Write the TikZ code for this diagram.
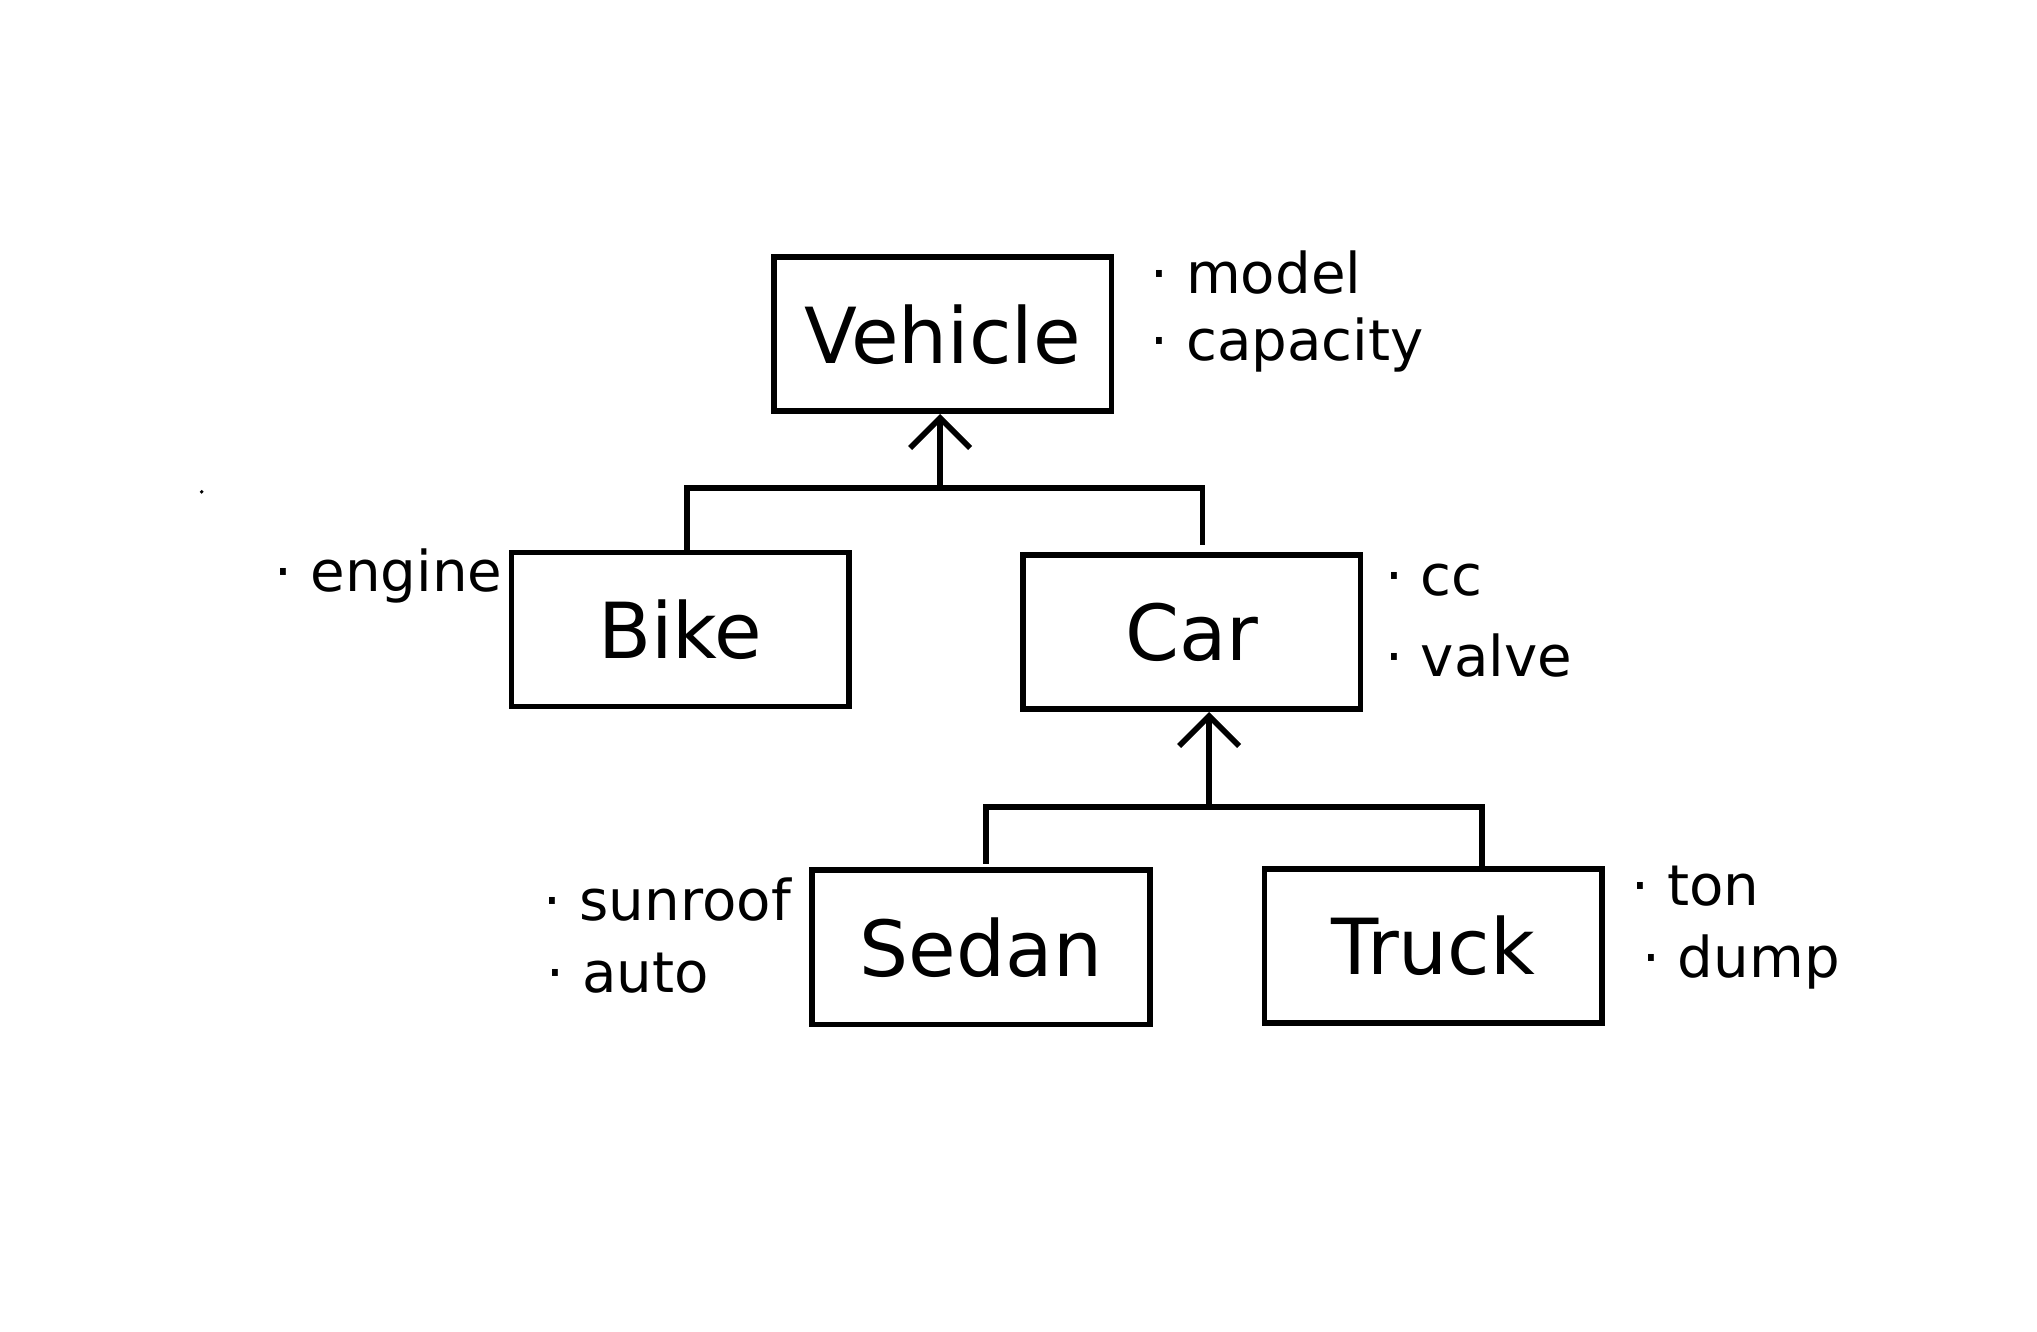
\documentclass[tikz,border=0pt]{standalone}
\usepackage{fontspec}
\setmainfont{DejaVu Sans}
\usetikzlibrary{arrows.meta}
\begin{document}
\begin{tikzpicture}[x=0.013184cm,y=-0.013184cm,
  cls/.style={draw,line width=1.6pt,minimum width=3.375cm,minimum height=1.54cm,inner sep=0pt,font=\fontsize{22}{26}\selectfont},
  attr/.style={anchor=west,font=\fontsize{16}{20}\selectfont,inner sep=0pt},
  ln/.style={line width=1.6pt},
  arr/.style={ln,-{Straight Barb[length=3mm,width=6mm]}}]
\useasboundingbox (0,0) rectangle (1545,1010);
\fill[white] (0,0) rectangle (1545,1010);
\node[cls] (veh) at (715,253.5) {Vehicle};
\node[cls] (bike) at (516,477.5) {Bike};
\node[cls] (car) at (904,479.5) {Car};
\node[cls] (sedan) at (744,718.5) {Sedan};
\node[cls] (truck) at (1087,717.5) {Truck};
\coordinate (j1) at (713,370);
\coordinate (j2) at (917,612);
\draw[ln] (bike.north -| 521,0) -- (521,370) -- (912,370) -- (912,413);
\draw[arr] (j1) -- (veh.south -| j1);
\draw[ln] (748,655) -- (748,612) -- (1124,612) -- (truck.north -| 1124,0);
\draw[arr] (j2) -- (car.south -| j2);
\node[attr] (a1) at (872,207) {· model};
\node[attr] (a2) at (872,262) {· capacity};
\node[attr] (a3) at (208,437) {· engine};
\node[attr] (a4) at (1050,440) {· cc};
\node[attr] (a5) at (1050,497) {· valve};
\node[attr] (a6) at (412,682) {· sunroof};
\node[attr] (a7) at (414,738) {· auto};
\node[attr] (a8) at (1237,672) {· ton};
\node[attr] (a9) at (1245,730) {· dump};
\fill (153,373) circle (1.5);
\end{tikzpicture}
\end{document}
